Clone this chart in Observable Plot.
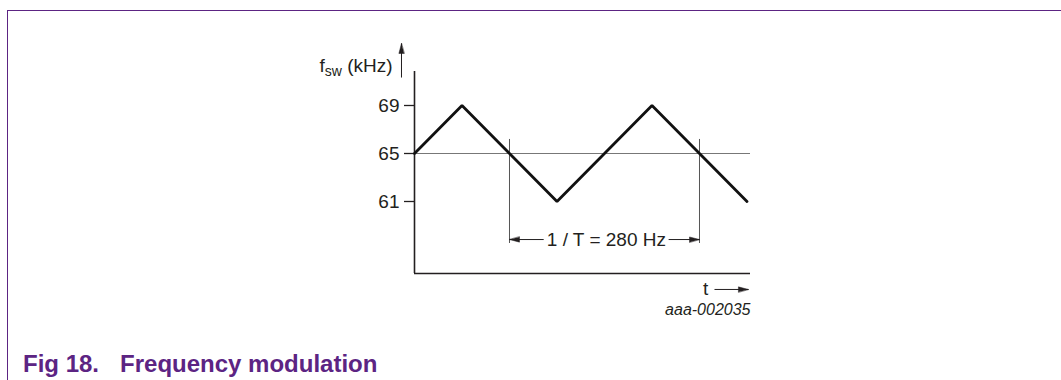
<!DOCTYPE html>
<html>
<head>
<meta charset="utf-8">
<script src="https://cdn.jsdelivr.net/npm/d3@7"></script>
<script src="https://cdn.jsdelivr.net/npm/@observablehq/plot@0.6"></script>
<style>
  html, body { margin: 0; padding: 0; background: #fff; width: 1061px; height: 380px; overflow: hidden; }
  #frame { position: absolute; left: 7px; top: 10px; right: 0; bottom: 0;
           border-top: 1.5px solid #5c2483; border-left: 1.5px solid #5c2483; }
  #chart { position: absolute; left: 0; top: 0; }
  #caption { position: absolute; left: 23px; top: 350px; line-height: 24px;
             font: bold 24px "Liberation Sans", Arial, Helvetica, sans-serif; color: #5c2483; white-space: pre; }
</style>
</head>
<body>
<div id="frame"></div>
<div id="chart"></div>
<div id="caption">Fig 18.<span style="padding-left:21px">Frequency modulation</span></div>
<script>
// ---- data ----
const waveT = [0, 1, 2, 3, 4, 5, 6, 7];            // time, quarter periods
const waveF = [65, 69, 65, 61, 65, 69, 65, 61];    // f_sw (kHz)
const yTicks = [61, 65, 69];
const centerFreq = [65];
const periodMarks = [2, 6];                        // start / end of one period
const periodMarkTop = 66.17, periodMarkBottom = 57.5;
const dimLabel = "1 / T = 280 Hz";
const dimLabelX = 4.04, dimY = 57.83;
const dimArrowTails = [2.72, 5.35];
const dimArrowTips = [2, 6];
const dimArrowRot = [-90, 90];
const yAxisLabel = "fsw (kHz)";
const yArrowX = -0.274, yArrowTail = 71.33, yArrowTip = 74.17;
const xAxisLabel = "t";
const tArrowTail = 6.316, tArrowTip = 7.03, tArrowY = 53.67;
const figCode = "aaa-002035";
const xDomain = [0, 7.074];
const yDomain = [55, 71.833];

const ink = "#231f20";
const font = '"Liberation Sans", Arial, Helvetica, sans-serif';

const head = {
  draw(context, l) {
    context.moveTo(0, -l);
    context.lineTo(-2.6, 0);
    context.lineTo(2.6, 0);
    context.closePath();
  }
};

const dimArrows = dimArrowTails.map((t, i) => ({x1: t, x2: dimArrowTips[i], rot: dimArrowRot[i]}));

const chart = Plot.plot({
  width: 1061,
  height: 330,
  marginLeft: 414,
  marginRight: 311,
  marginTop: 71,
  marginBottom: 57,
  style: {fontFamily: font, fontSize: "19px", color: ink, background: "transparent", overflow: "visible"},
  x: {domain: xDomain, axis: null},
  y: {domain: yDomain, axis: null},
  marks: [
    Plot.ruleY(centerFreq, {stroke: "#777", strokeWidth: 1.2}),
    Plot.ruleX(periodMarks, {y1: periodMarkTop, y2: periodMarkBottom, stroke: "#555", strokeWidth: 1}),
    Plot.axisY({ticks: yTicks, tickSize: 10, tickPadding: 5, label: null, fontSize: 19, strokeWidth: 1.3, tickFormat: d => String(d)}),
    Plot.ruleX([0], {stroke: ink, strokeWidth: 1.6}),
    Plot.ruleY([yDomain[0]], {stroke: ink, strokeWidth: 1.6}),
    Plot.line(waveT.map((t, i) => ({t, f: waveF[i]})), {x: "t", y: "f", stroke: "#111", strokeWidth: 2.8, strokeLinejoin: "miter"}),
    // dimension arrows
    Plot.link(dimArrows, {x1: "x1", x2: "x2", y1: () => dimY, y2: () => dimY, stroke: ink, strokeWidth: 1}),
    Plot.vector(dimArrows, {x: "x2", y: () => dimY, rotate: "rot", length: 10, anchor: "end", shape: head, fill: ink, stroke: ink, strokeWidth: 0.5}),
    Plot.text([dimLabel], {x: dimLabelX, y: dimY, text: d => d, fontSize: 19, fill: ink}),
    // y axis arrow + label
    Plot.link([0], {x1: yArrowX, x2: yArrowX, y1: yArrowTail, y2: yArrowTip, stroke: ink, strokeWidth: 1}),
    Plot.vector([0], {x: yArrowX, y: yArrowTip, rotate: 0, length: 10, anchor: "end", shape: head, fill: ink, stroke: ink, strokeWidth: 0.5}),
    Plot.text([yAxisLabel], {x: -0.463, y: yDomain[1], text: d => d, textAnchor: "end", lineAnchor: "bottom", fontSize: 19, fill: ink, className: "ylabel"}),
    // t arrow + label
    Plot.text([xAxisLabel], {x: 6.13, y: 53.17, text: d => d, lineAnchor: "bottom", fontSize: 19, fill: ink}),
    Plot.link([0], {x1: tArrowTail, x2: tArrowTip, y1: tArrowY, y2: tArrowY, stroke: ink, strokeWidth: 1}),
    Plot.vector([0], {x: tArrowTip, y: tArrowY, rotate: 90, length: 10, anchor: "end", shape: head, fill: ink, stroke: ink, strokeWidth: 0.5}),
    // figure code
    Plot.text([figCode], {x: xDomain[1], y: 51.58, text: d => d, textAnchor: "end", lineAnchor: "bottom", fontSize: 16, fontStyle: "italic", fill: ink})
  ]
});

document.getElementById("chart").appendChild(chart);

// subscript for f_sw
d3.select(chart).selectAll("g.ylabel text").each(function() {
  const t = d3.select(this);
  t.text(null);
  t.append("tspan").text("f");
  t.append("tspan").attr("dy", 4).attr("font-size", 14).text("sw");
  t.append("tspan").attr("dy", -4).text(" (kHz)");
});
</script>
</body>
</html>
